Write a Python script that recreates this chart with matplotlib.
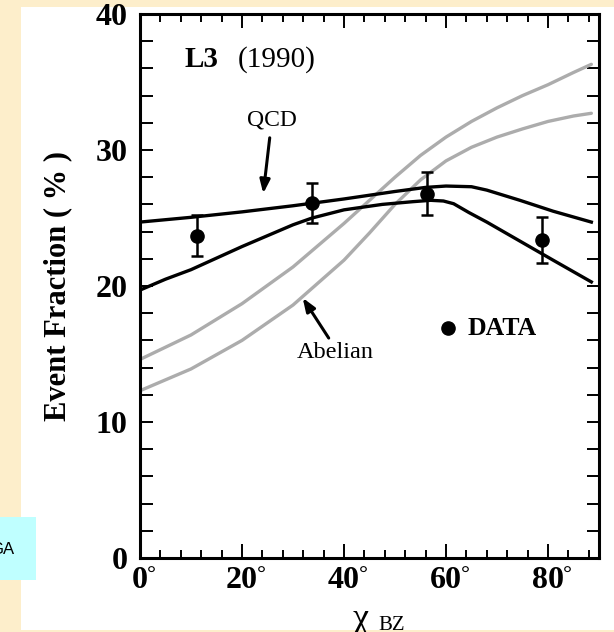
import numpy as np
import matplotlib
matplotlib.use('Agg')
import matplotlib.pyplot as plt
from matplotlib.ticker import MultipleLocator
from matplotlib.patches import Rectangle

plt.rcParams['font.family'] = ['Liberation Serif', 'DejaVu Serif']

# data
data_x = [11.25, 33.75, 56.25, 78.75]
data_y = [23.7, 26.1, 26.8, 23.4]
data_err = [1.5, 1.5, 1.6, 1.7]

qcd_a_x = [0, 10, 20, 30, 40, 50, 56, 60, 65, 68, 74.5, 81, 88.5]
qcd_a_y = [24.7, 25.05, 25.45, 25.9, 26.4, 26.95, 27.25, 27.35, 27.3, 27.05, 26.3, 25.5, 24.7]

qcd_b_x = [0, 5, 10, 20, 30, 33.75, 40, 47.5, 53.5, 57, 59.5, 61.5, 64.5, 68, 74.5, 81, 88.5]
qcd_b_y = [19.7, 20.5, 21.2, 22.9, 24.5, 25.0, 25.6, 26.0, 26.2, 26.3, 26.25, 26.05, 25.4, 24.7, 23.3, 21.9, 20.3]

abel_a_x = [0, 10, 20, 30, 40, 45, 50, 55, 60, 65, 70, 75, 80, 85, 88.5]
abel_a_y = [14.6, 16.4, 18.7, 21.4, 24.6, 26.3, 28.0, 29.6, 30.95, 32.1, 33.1, 34.0, 34.8, 35.7, 36.3]

abel_b_x = [0, 10, 20, 30, 40, 45, 50, 55, 60, 65, 70, 75, 80, 85, 88.5]
abel_b_y = [12.3, 13.9, 16.0, 18.6, 21.9, 23.9, 26.0, 27.8, 29.2, 30.2, 30.95, 31.55, 32.1, 32.5, 32.7]

x_ticks = [0, 20, 40, 60, 80]
x_tick_labels = ['0', '20', '40', '60', '80']
y_ticks = [0, 10, 20, 30, 40]

fig = plt.figure(figsize=(6.14, 6.32), dpi=100)
fig.patch.set_facecolor('#fdeecb')
# white page area
fig.patches.append(Rectangle((21 / 614, 2 / 632), 1, 623 / 632, transform=fig.transFigure,
                             facecolor='white', edgecolor='none', zorder=-10))

ax = fig.add_axes([140 / 614, 1 - 558 / 632, 459 / 614, 544 / 632])

gray = '#acacac'
ax.plot(abel_a_x, abel_a_y, color=gray, lw=2.4, solid_capstyle='round')
ax.plot(abel_b_x, abel_b_y, color=gray, lw=2.4, solid_capstyle='round')
ax.plot(qcd_a_x, qcd_a_y, color='black', lw=2.4)
ax.plot(qcd_b_x, qcd_b_y, color='black', lw=2.4)

ax.errorbar(data_x, data_y, yerr=data_err, fmt='o', color='black', ms=9.5,
            elinewidth=1.8, capsize=4.5, capthick=1.8, zorder=5)

ax.set_xlim(0, 90)
ax.set_ylim(0, 40)
ax.set_xticks(x_ticks)
ax.set_xticklabels(x_tick_labels)
ax.set_yticks(y_ticks)
ax.xaxis.set_minor_locator(MultipleLocator(4))
ax.yaxis.set_minor_locator(MultipleLocator(2))
tick_size = 23
ax.tick_params(which='both', direction='in', top=True, right=True, width=1.4)
ax.tick_params(axis='x', which='major', length=10, pad=6, labelsize=tick_size)
ax.tick_params(axis='x', which='minor', length=6)
ax.tick_params(axis='y', which='both', length=9, pad=9, labelsize=tick_size)
for lab in ax.get_xticklabels() + ax.get_yticklabels():
    lab.set_fontweight('bold')
for sp in ax.spines.values():
    sp.set_linewidth(2.2)

# degree signs next to the x tick numbers
for t, lab in zip(x_ticks, x_tick_labels):
    dx = len(lab) * 0.5 * tick_size / 2 - 0.5
    ax.annotate('°', xy=(t, 0), xycoords=('data', 'axes fraction'), xytext=(dx, -6),
                textcoords='offset points', ha='left', va='top', fontsize=16, fontweight='bold')

ax.set_ylabel('Event Fraction ( % )', fontsize=22, fontweight='bold', labelpad=17)

ax.text(8.8, 36.1, 'L3', fontsize=21, fontweight='bold', ha='left', va='baseline')
ax.text(19.2, 36.1, '(1990)', fontsize=21, ha='left', va='baseline')

ax.text(25.9, 32.2, 'QCD', fontsize=17, ha='center', va='center')
ax.annotate('', xy=(24.1, 26.6), xytext=(25.5, 31.1),
            arrowprops=dict(arrowstyle='-|>,head_length=0.8,head_width=0.3', color='black', lw=2.2))
ax.text(38.2, 15.1, 'Abelian', fontsize=17.5, ha='center', va='center')
ax.annotate('', xy=(31.6, 19.3), xytext=(37.3, 16.0),
            arrowprops=dict(arrowstyle='-|>,head_length=0.8,head_width=0.3', color='black', lw=2.2))

ax.plot([60.4], [16.9], 'o', color='black', ms=9.5)
ax.text(64.3, 16.9, 'DATA', fontsize=18.5, fontweight='bold', ha='left', va='center')

# x axis label, cut at the bottom of the picture
fig.text(353 / 614, 1 - 603 / 632, 'χ', fontsize=26, ha='left', va='top')
fig.text(378 / 614, 1 - 616 / 632, 'BZ', fontsize=15, ha='left', va='top')

# cyan box at the left edge
fig.patches.append(Rectangle((0, 1 - 580 / 632), 36 / 614, 63 / 632, transform=fig.transFigure,
                             facecolor='#bfffff', edgecolor='none', zorder=5))
fig.text(14 / 614, 1 - 549 / 632, 'GA', fontsize=12, family='Liberation Sans',
         ha='right', va='center', zorder=6)

fig.savefig('out.png', dpi=100)
